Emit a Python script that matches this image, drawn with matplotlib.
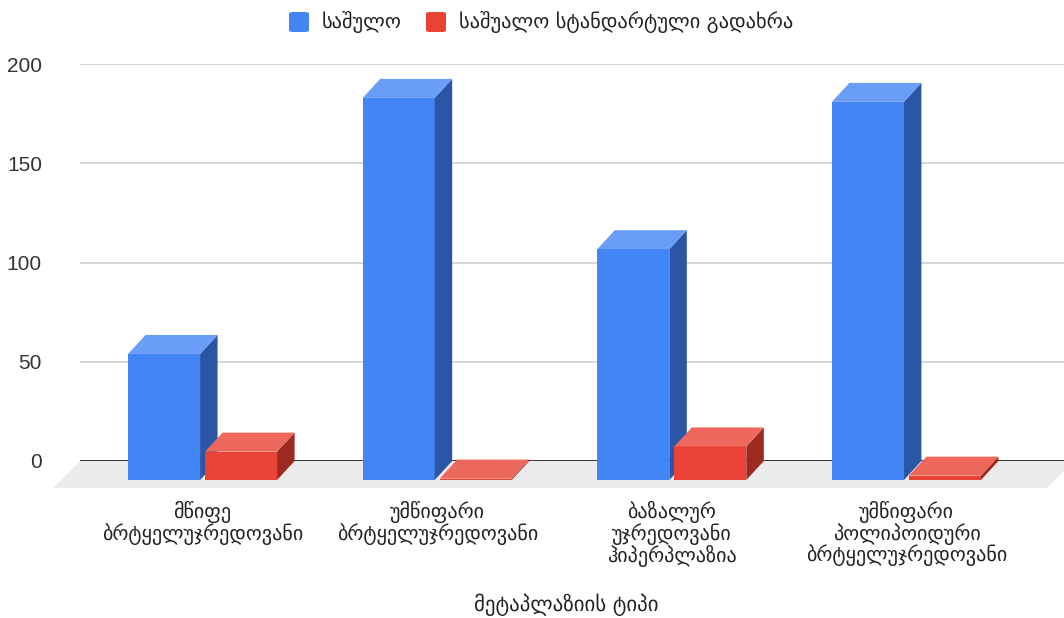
import matplotlib
matplotlib.use("Agg")
import matplotlib.pyplot as plt
from matplotlib.patches import Polygon, FancyBboxPatch

# data
categories = [
    "მწიფე\nბრტყელუჯრედოვანი",
    "უმწიფარი\nბრტყელუჯრედოვანი",
    "ბაზალურ\nუჯრედოვანი\nჰიპერპლაზია",
    "უმწიფარი\nპოლიპოიდური\nბრტყელუჯრედოვანი",
]
mean_vals = [63.5, 192.5, 116.3, 190.5]
std_vals = [14.3, 0.7, 16.9, 2.2]
series_names = ["საშულო", "საშუალო სტანდარტული გადახრა"]
y_ticks = [0, 50, 100, 150, 200]
x_title = "მეტაპლაზიის ტიპი"

# face colours: front, top, side
blue = ("#4285f4", "#6a9df6", "#2a56a5")
red = ("#ea4335", "#ed685c", "#9c2a20")

W, H = 1064, 618
fig = plt.figure(figsize=(W / 100, H / 100), dpi=100)

# axes covers the back wall: 0 -> y=461 px, 200 -> y=64 px
ax = fig.add_axes([80 / W, (H - 461) / H, 984 / W, 397 / H])
ax.set_xlim(-0.597, 3.597)
ax.set_ylim(0, 200)
for s in ax.spines.values():
    s.set_visible(False)

# pixel -> data unit conversion
ux = (3.597 + 0.597) / 984
uy = 200 / 397

# depth of the bars and of the floor (pixels)
dx, dy = 17.5 * ux, 19 * uy
fdx, fdy = 27 * ux, 27 * uy

x0, x1 = ax.get_xlim()
floor = Polygon([(x0, 0), (x1 + 10 * ux, 0), (x1 + 10 * ux - fdx, -fdy), (x0 - fdx, -fdy)],
                closed=True, facecolor="#ebebeb", edgecolor="none", clip_on=False, zorder=0)
ax.add_patch(floor)

for t in y_ticks[1:]:
    ax.axhline(t, color="#cccccc", lw=1.1, zorder=1)
ax.axhline(0, color="#333333", lw=1.4, zorder=1)

ax.set_yticks(y_ticks)
ax.set_yticklabels([str(t) for t in y_ticks], fontfamily="Liberation Sans", fontsize=15, color="#333333")
ax.tick_params(axis="y", length=0, pad=27.4)
ax.set_xticks([])

bw = 72 * ux
off = 38.5 * ux


def bar3d(xc, v, cols):
    left = xc - bw / 2
    # front face
    ax.bar(xc - dx, v, width=bw, bottom=-dy, color=cols[0], clip_on=False, zorder=3, linewidth=0)
    top = Polygon([(left - dx, v - dy), (left + bw - dx, v - dy), (left + bw, v), (left, v)],
                  closed=True, facecolor=cols[1], edgecolor="none", clip_on=False, zorder=3)
    side = Polygon([(left + bw - dx, -dy), (left + bw, 0), (left + bw, v), (left + bw - dx, v - dy)],
                   closed=True, facecolor=cols[2], edgecolor="none", clip_on=False, zorder=3)
    ax.add_patch(side)
    ax.add_patch(top)


for i in range(len(categories)):
    bar3d(i - off, mean_vals[i], blue)
    bar3d(i + off, std_vals[i], red)

# category labels under the front of each group
for i, lab in enumerate(categories):
    ax.text(i - dx, -40 * uy, lab, ha="center", va="top", fontsize=14.5,
            color="#222222", linespacing=1.0, clip_on=False)

fig.text(566 / W, 1 - 605 / H, x_title, ha="center", va="center", fontsize=15, color="#222222")

# legend
for sx, tx, name, col in [(289, 322, series_names[0], blue[0]), (426, 459, series_names[1], red[0])]:
    box = FancyBboxPatch((sx / W, 1 - 32 / H), 20 / W, 20 / H,
                         boxstyle="round,pad=0,rounding_size=0.003",
                         transform=fig.transFigure, facecolor=col, edgecolor="none")
    fig.add_artist(box)
    fig.text(tx / W, 1 - 22 / H, name, ha="left", va="center", fontsize=14.7, color="#222222")

fig.savefig("out.png", dpi=100)
